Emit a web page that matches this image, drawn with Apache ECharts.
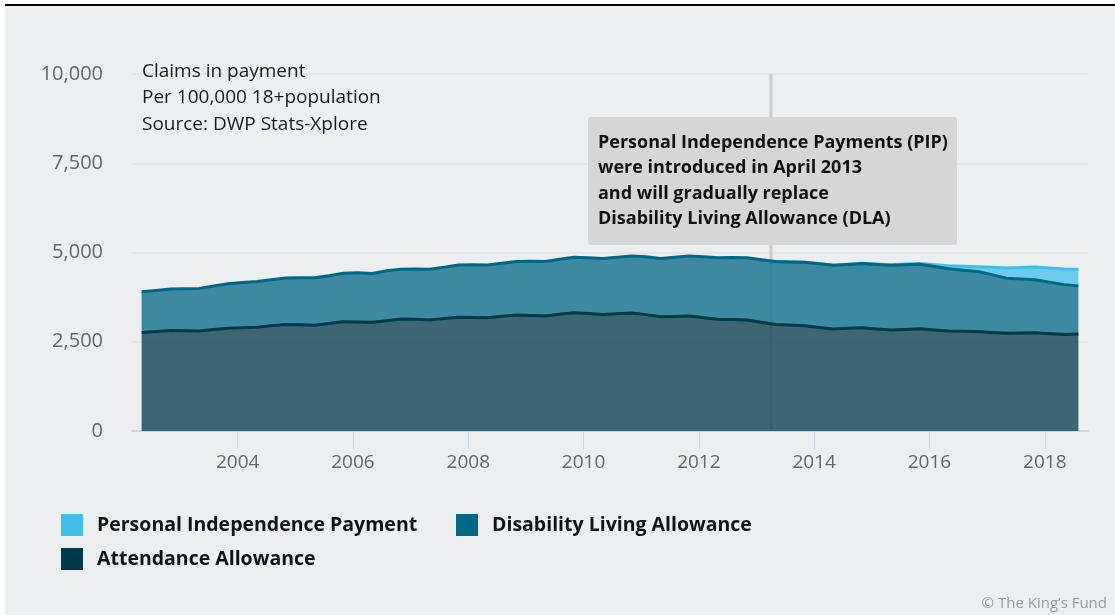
<!DOCTYPE html>
<html>
<head>
<meta charset="utf-8">
<script src="https://cdn.jsdelivr.net/npm/echarts@6/dist/echarts.min.js"></script>
<style>
  html, body { margin: 0; padding: 0; background: #ffffff; }
  #frame { position: absolute; left: 5px; top: 4px; width: 1110px; height: 611px; background: #edeef0; border-top: 2px solid #000; box-sizing: border-box; }
  #chart { position: absolute; left: 0; top: 0; width: 1115px; height: 615px; }
</style>
</head>
<body>
<div id="frame"></div>
<div id="chart"></div>
<script>
// Quarterly snapshots, claims in payment per 100,000 adults (18+)
const quarters = [
  '2002-05','2002-08','2002-11',
  '2003-02','2003-05','2003-08','2003-11',
  '2004-02','2004-05','2004-08','2004-11',
  '2005-02','2005-05','2005-08','2005-11',
  '2006-02','2006-05','2006-08','2006-11',
  '2007-02','2007-05','2007-08','2007-11',
  '2008-02','2008-05','2008-08','2008-11',
  '2009-02','2009-05','2009-08','2009-11',
  '2010-02','2010-05','2010-08','2010-11',
  '2011-02','2011-05','2011-08','2011-11',
  '2012-02','2012-05','2012-08','2012-11',
  '2013-02','2013-05','2013-08','2013-11',
  '2014-02','2014-05','2014-08','2014-11',
  '2015-02','2015-05','2015-08','2015-11',
  '2016-02','2016-05','2016-08','2016-11',
  '2017-02','2017-05','2017-08','2017-11',
  '2018-02','2018-05','2018-08'
];

const attendanceAllowance = [
  2760,2790,2815,2810,2800,2840,2875,2890,2905,2945,
  2980,2975,2960,3010,3060,3055,3045,3090,3140,3130,
  3110,3150,3185,3180,3175,3215,3250,3235,3220,3270,
  3315,3290,3260,3285,3305,3260,3200,3210,3220,3175,
  3130,3120,3110,3045,2985,2970,2950,2900,2855,2875,
  2895,2860,2830,2845,2865,2830,2800,2795,2790,2760,
  2735,2745,2755,2725,2700,2715
];

const disabilityLivingAllowance = [
  1140,1145,1160,1175,1195,1220,1250,1270,1285,1290,
  1305,1315,1330,1340,1360,1375,1365,1400,1390,1405,
  1420,1440,1465,1475,1475,1485,1500,1520,1530,1540,
  1550,1560,1575,1585,1600,1620,1635,1660,1680,1705,
  1725,1740,1745,1755,1760,1765,1775,1785,1785,1790,
  1800,1805,1810,1810,1805,1780,1745,1710,1680,1620,
  1545,1510,1480,1445,1400,1350
];

// PIP claims, from the first quarter after its April 2013 launch
const pipFirstQuarter = '2013-05';
const personalIndependencePayment = [
  1,2,3,4,4,5,5,15,20,20,20,50,85,110,130,205,285,325,360,395,435,465
];

const pipIntroduced = '2013-04';
const yTicks = { min: 0, max: 10000, interval: 2500 };
const xTickYears = [2004, 2006, 2008, 2010, 2012, 2014, 2016, 2018];
const xRange = ['2002-03', '2018-10'];

const seriesNames = {
  pip: 'Personal Independence Payment',
  dla: 'Disability Living Allowance',
  aa: 'Attendance Allowance'
};
const colors = { pip: '#40bfea', dla: '#006787', aa: '#003a48' };

const noteLines = [
  'Personal Independence Payments (PIP)',
  'were introduced in April 2013',
  'and will gradually replace',
  'Disability Living Allowance (DLA)'
];
const subtitleLines = ['Claims in payment', 'Per 100,000 18+population', 'Source: DWP Stats-Xplore'];

// 'YYYY-MM' -> fractional year on a value axis
const toYear = s => { const [y, m] = s.split('-').map(Number); return y + (m - 1) / 12; };

// Rows are [value, year]; every series spans all quarters so stacking lines up by index
function rows(vals, firstQuarter) {
  const offset = quarters.indexOf(firstQuarter);
  return quarters.map((q, i) => {
    const v = i >= offset ? vals[i - offset] : '-';
    return [v, toYear(q)];
  });
}

const regular = '"Open Sans", sans-serif';

function areaSeries(key, values, firstQuarter, z) {
  return {
    name: seriesNames[key],
    type: 'line',
    stack: 'claims',
    z: z,
    data: rows(values, firstQuarter),
    encode: { x: 1, y: 0 },
    showSymbol: false,
    symbol: 'none',
    silent: true,
    lineStyle: { color: colors[key], width: 3, join: 'round' },
    itemStyle: { color: colors[key] },
    areaStyle: { color: colors[key], opacity: 0.75 },
    emphasis: { disabled: true }
  };
}

function legend(key, left, top) {
  return {
    data: [seriesNames[key]],
    left: left, top: top,
    padding: 0,
    itemWidth: 22, itemHeight: 22,
    icon: 'rect',
    selectedMode: false,
    itemStyle: { opacity: 1 },
    textStyle: { fontFamily: regular, fontWeight: 'bold', fontSize: 19.5, color: '#111', padding: [0, 0, 0, 9] }
  };
}

const chart = echarts.init(document.getElementById('chart'), null, { renderer: 'canvas' });

chart.setOption({
  backgroundColor: 'transparent',
  animation: false,
  grid: { left: 132, right: 27, top: 74, bottom: 184 },
  xAxis: {
    type: 'value',
    min: toYear(xRange[0]),
    max: toYear(xRange[1]),
    axisLine: { lineStyle: { color: '#ccd6eb', width: 2 } },
    axisTick: { show: true, length: 18, lineStyle: { color: '#ccd6eb', width: 1 }, customValues: xTickYears },
    axisLabel: {
      customValues: xTickYears,
      formatter: v => String(v),
      color: '#666', fontFamily: regular, fontSize: 19, margin: 22
    },
    splitLine: { show: false }
  },
  yAxis: {
    type: 'value',
    min: yTicks.min, max: yTicks.max, interval: yTicks.interval,
    axisLine: { show: false },
    axisTick: { show: false },
    axisLabel: { color: '#666', fontFamily: regular, fontSize: 20, margin: 29 },
    splitLine: { lineStyle: { color: '#e4e5e7', width: 2 } }
  },
  legend: [legend('pip', 61, 514), legend('dla', 456, 514), legend('aa', 61, 548)],
  series: [
    areaSeries('aa', attendanceAllowance, quarters[0], 6),
    areaSeries('dla', disabilityLivingAllowance, quarters[0], 5),
    areaSeries('pip', personalIndependencePayment, pipFirstQuarter, 4),
    {
      name: 'pip-launch',
      type: 'line',
      z: 1,
      silent: true,
      showSymbol: false,
      symbol: 'none',
      data: [[toYear(pipIntroduced), yTicks.min], [toYear(pipIntroduced), yTicks.max]],
      lineStyle: { color: '#cccccc', width: 3 },
      emphasis: { disabled: true }
    }
  ],
  graphic: [
    {
      type: 'text', left: 142, top: 58, z: 100, silent: true,
      style: { text: subtitleLines.join('\n'), fill: '#1a1a1a', font: '19px ' + regular, lineHeight: 26.5 }
    },
    {
      type: 'group', left: 588, top: 117, z: 100, silent: true,
      children: [
        { type: 'rect', z: 100, shape: { x: 0, y: 0, width: 369, height: 128, r: 3 }, style: { fill: '#d6d6d6' } },
        { type: 'text', z: 101, x: 10, y: 13, style: { text: noteLines.join('\n'), fill: '#111', font: 'bold 18px ' + regular, lineHeight: 25.5 } }
      ]
    },
    {
      type: 'text', right: 8, top: 596, z: 100, silent: true,
      style: { text: '\u00a9 The King\u2019s Fund', fill: '#9a9a9a', font: '15px ' + regular }
    }
  ]
});
</script>
</body>
</html>
